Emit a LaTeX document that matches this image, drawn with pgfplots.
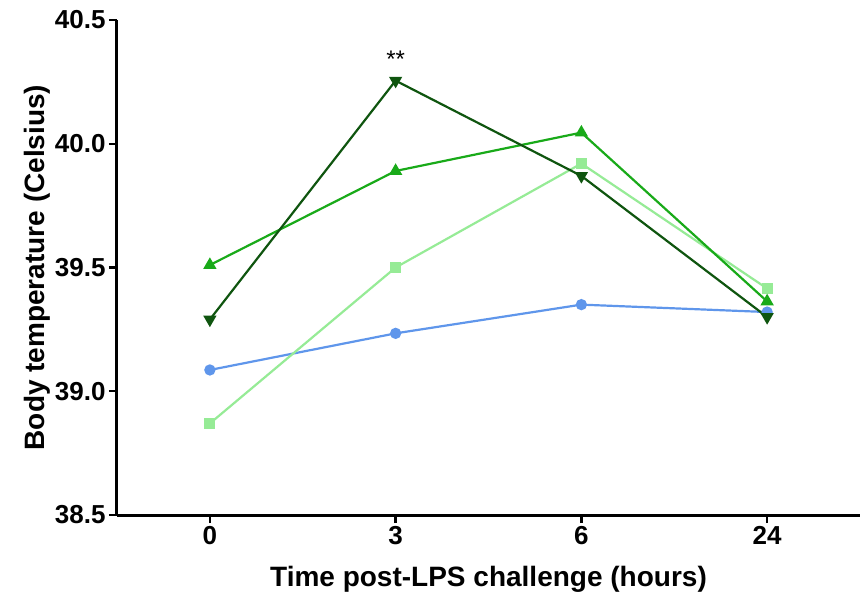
\documentclass[border=0pt]{standalone}
\usepackage{pgfplots}
\pgfplotsset{compat=1.18}
\usepackage{fontspec}
\setmainfont{Liberation Sans}
\definecolor{cblue}{RGB}{95,150,235}
\definecolor{clight}{RGB}{150,235,150}
\definecolor{cmid}{RGB}{25,170,25}
\definecolor{cdark}{RGB}{15,85,15}
\begin{document}
\begin{tikzpicture}
\useasboundingbox (-117pt,-80pt) rectangle (748pt,515pt);
\begin{axis}[
  at={(0,0)}, anchor=south west,
  width=743pt, height=495pt, scale only axis,
  xmin=-0.5, xmax=3.5, ymin=38.5, ymax=40.5,
  axis x line*=bottom, axis y line*=left,
  axis line style={line width=3pt, -},
  xtick={0,1,2,3}, xticklabels={0,3,6,24},
  ytick={38.5,39.0,39.5,40.0,40.5},
  yticklabel style={/pgf/number format/.cd, fixed, fixed zerofill, precision=1},
  /pgf/number format/assume math mode=true,
  tick style={line width=2.4pt, black},
  major tick length=8pt,
  tick align=outside,
  ticklabel style={font=\fontsize{26}{30}\selectfont\bfseries},
  label style={font=\fontsize{28}{32}\selectfont\bfseries},
  xlabel={Time post-LPS challenge (hours)},
  ylabel={Body temperature (Celsius)},
  xlabel style={yshift=-14pt},
  ylabel style={yshift=-2pt},
  clip=false,
  every axis plot/.append style={line width=2.2pt},
]
\addplot[cblue, mark=*, mark size=4.5pt] coordinates {(0,39.086) (1,39.234) (2,39.35) (3,39.32)};
\addplot[clight, mark=square*, mark size=4.5pt] coordinates {(0,38.87) (1,39.50) (2,39.92) (3,39.415)};
\addplot[cmid, mark=triangle*, mark size=5.5pt] coordinates {(0,39.51) (1,39.89) (2,40.045) (3,39.363)};
\addplot[cdark, mark=triangle*, mark options={rotate=180}, mark size=5.5pt] coordinates {(0,39.29) (1,40.255) (2,39.87) (3,39.30)};
\node[font=\fontsize{24}{26}\selectfont] at (axis cs:1,40.34) {**};
\end{axis}
\end{tikzpicture}
\end{document}
